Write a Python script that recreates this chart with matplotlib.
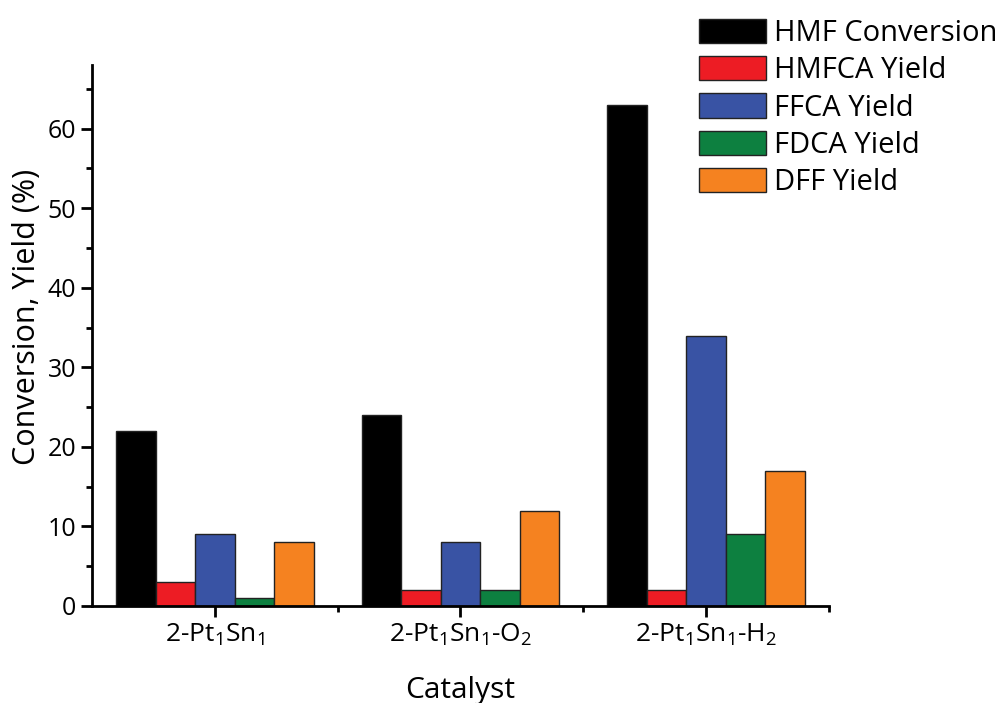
import numpy as np
import matplotlib
matplotlib.use("Agg")
import matplotlib.pyplot as plt
from matplotlib.ticker import MultipleLocator, FixedLocator

plt.rcParams["font.family"] = ["Open Sans", "DejaVu Sans"]
plt.rcParams["mathtext.fontset"] = "custom"
plt.rcParams["mathtext.rm"] = "Open Sans"
plt.rcParams["mathtext.it"] = "Open Sans"

# Data
catalysts = ["2-Pt$_1$Sn$_1$", "2-Pt$_1$Sn$_1$-O$_2$", "2-Pt$_1$Sn$_1$-H$_2$"]
series_names = ["HMF Conversion", "HMFCA Yield", "FFCA Yield", "FDCA Yield", "DFF Yield"]
hmf_conversion = [22, 24, 63]
hmfca_yield = [3, 2, 2]
ffca_yield = [9, 8, 34]
fdca_yield = [1, 2, 9]
dff_yield = [8, 12, 17]
colors = ["#000000", "#ED1C24", "#3953A4", "#0D8040", "#F58220"]


def main():
    series = [hmf_conversion, hmfca_yield, ffca_yield, fdca_yield, dff_yield]

    fig = plt.figure(figsize=(10.06, 7.03), dpi=100)
    ax = fig.add_axes([0.0915, 0.138, 0.7325, 0.7695])

    x = np.arange(1, len(catalysts) + 1)
    width = 0.161
    for i, (name, vals) in enumerate(zip(series_names, series)):
        offset = (i - 2) * width
        ax.bar(x + offset, vals, width, color=colors[i], edgecolor="#222222",
               linewidth=1.0, label=name)

    ax.set_xlim(0.5, 3.5)
    ax.set_ylim(0, 68)
    ax.set_xticks(x)
    ax.set_xticklabels(catalysts, fontsize=19)
    ax.xaxis.set_minor_locator(FixedLocator([1.5, 2.5, 3.5]))
    ax.yaxis.set_major_locator(MultipleLocator(10))
    ax.yaxis.set_minor_locator(MultipleLocator(5))
    ax.tick_params(axis="y", labelsize=18)
    ax.tick_params(which="major", length=8, width=2, direction="out")
    ax.tick_params(which="minor", length=4, width=2, direction="out")

    for side in ["top", "right"]:
        ax.spines[side].set_visible(False)
    for side in ["left", "bottom"]:
        ax.spines[side].set_linewidth(2)

    ax.set_xlabel("Catalyst", fontsize=21.5, labelpad=20)
    ax.set_ylabel("Conversion, Yield (%)", fontsize=22)
    ax.yaxis.set_label_coords(-0.068, 0.534)

    handles, labels = ax.get_legend_handles_labels()
    fig.legend(handles, labels, loc="upper left",
               bbox_to_anchor=(0.683, 0.99), frameon=False, fontsize=21,
               handlelength=2.3, handleheight=0.9, handletextpad=0.28,
               labelspacing=0.28, borderaxespad=0)

    fig.savefig("out.png", dpi=100)


if __name__ == "__main__":
    main()
